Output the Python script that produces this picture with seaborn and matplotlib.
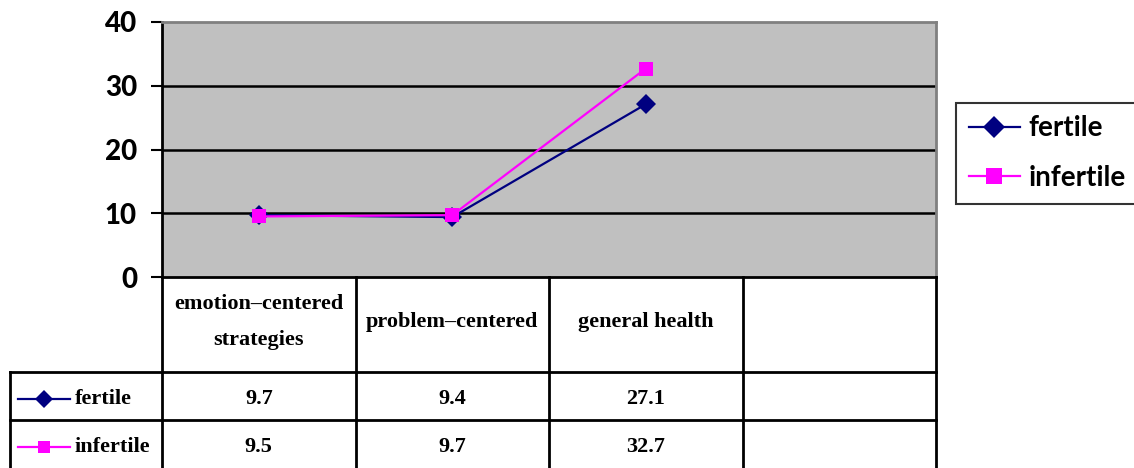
import matplotlib
matplotlib.use('Agg')
import matplotlib.pyplot as plt
from matplotlib.lines import Line2D
import pandas as pd
import seaborn as sns

# Data
categories = ['emotion–centered\nstrategies', 'problem–centered', 'general health']
fertile = [9.7, 9.4, 27.1]
infertile = [9.5, 9.7, 32.7]
groups = ['fertile', 'infertile']
colors = {'fertile': '#000080', 'infertile': '#ff00ff'}
markers = {'fertile': 'D', 'infertile': 's'}

df = pd.DataFrame({
    'category': categories * 2,
    'value': fertile + infertile,
    'group': ['fertile'] * 3 + ['infertile'] * 3,
})

W, H = 1134, 468
fig = plt.figure(figsize=(W / 100, H / 100), dpi=100)


def box(x0, y0, x1, y1):
    return [x0 / W, 1 - y1 / H, (x1 - x0) / W, (y1 - y0) / H]


table_font = dict(family='Liberation Serif', weight='bold', size=16)

# plot area
ax = fig.add_axes(box(162, 22, 936, 277))
ax.set_facecolor('#c0c0c0')
sns.lineplot(data=df, x='category', y='value', hue='group', style='group',
             palette=colors, markers=markers, dashes=False, sort=False,
             linewidth=1.6, markersize=10, markeredgewidth=0,
             legend=False, ax=ax)
ax.set_xlim(-0.5, 3.5)
ax.set_ylim(0, 40)
ax.set_yticks([0, 10, 20, 30, 40])
ax.set_xticks([])
ax.set_xlabel('')
ax.set_ylabel('')
for y in [10, 20, 30]:
    ax.axhline(y, color='black', lw=1.8, zorder=0.5)
for s in ['top', 'right']:
    ax.spines[s].set_color('#808080')
    ax.spines[s].set_linewidth(2)
for s in ['left', 'bottom']:
    ax.spines[s].set_color('black')
    ax.spines[s].set_linewidth(2)
ax.tick_params(axis='y', length=8, width=1.5, color='black', pad=10)
for lab in ax.get_yticklabels():
    lab.set_fontfamily('Lato')
    lab.set_fontweight(900)
    lab.set_fontsize(20)

# legend on the right
handles = [Line2D([], [], color=colors[g], marker=markers[g], lw=1.6,
                  markersize=11, markeredgewidth=0) for g in groups]
leg = ax.legend(handles, groups, loc='upper left',
                bbox_to_anchor=(956 / W, 1 - 103 / H), bbox_transform=fig.transFigure,
                frameon=True, fancybox=False, borderpad=0.45, handlelength=1.85,
                handletextpad=0.3, labelspacing=0.85, borderaxespad=0,
                prop=dict(family='Lato', weight='bold', size=20))
leg.get_frame().set_edgecolor('black')
leg.get_frame().set_linewidth(1.5)

# data table below the plot
col_w = (936 - 162) / 4
lab_w = (162 - 10) / col_w
tab = fig.add_axes(box(10, 277, 936, 468))
tab.set_xlim(-0.5 - lab_w, 3.5)
tab.set_ylim(191, 0)
tab.axis('off')
x_left = -0.5 - lab_w
for xb in [-0.5, 0.5, 1.5, 2.5, 3.5]:
    tab.plot([xb, xb], [0, 191], color='black', lw=2, clip_on=False)
tab.plot([x_left, x_left], [95, 191], color='black', lw=2, clip_on=False)
for yb in [95, 143]:
    tab.plot([x_left, 3.5], [yb, yb], color='black', lw=2, clip_on=False)

for i, c in enumerate(categories):
    tab.text(i, 45, c, ha='center', va='center', linespacing=2.05, **table_font)

rows = {'fertile': fertile, 'infertile': infertile}
for r, g in enumerate(groups):
    yc = 122 + 48 * r
    tab.plot([x_left + 0.04, x_left + 0.31], [yc, yc], color=colors[g], lw=1.6)
    tab.plot([x_left + 0.175], [yc], color=colors[g], marker=markers[g],
             markersize=9, markeredgewidth=0)
    tab.text(x_left + 0.335, yc, g, ha='left', va='center', **table_font)
    for i, v in enumerate(rows[g]):
        tab.text(i, yc, f'{v:.1f}', ha='center', va='center', **table_font)

fig.savefig('out.png', dpi=100)
